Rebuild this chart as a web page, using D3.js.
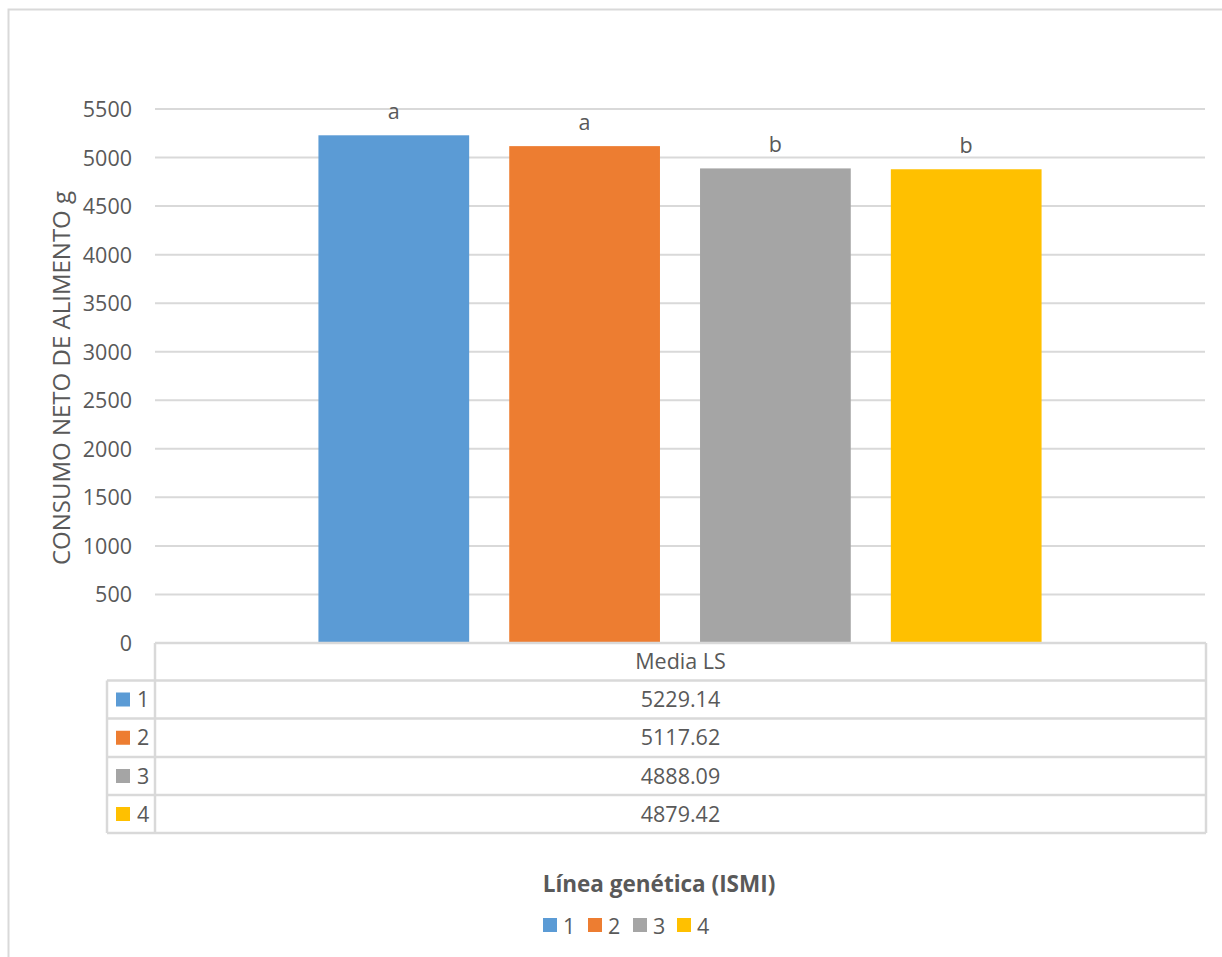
<!DOCTYPE html>
<html><head><meta charset="utf-8">
<script src="https://cdn.jsdelivr.net/npm/d3@7"></script>
<style>body{margin:0;background:#fff}svg{display:block}text{font-family:"Open Sans",sans-serif;fill:#595959}</style>
</head><body><svg id="c" width="1222" height="957"></svg>
<script>
const categories = ["Media LS"];
const series = ["1","2","3","4"];
const values = [5229.14, 5117.62, 4888.09, 4879.42];
const valueLabels = ["5229.14","5117.62","4888.09","4879.42"];
const letters = ["a","a","b","b"];
const colors = ["#5b9bd5","#ed7d31","#a5a5a5","#ffc000"];
const yTicks = [0,500,1000,1500,2000,2500,3000,3500,4000,4500,5000,5500];
const yTitle = "CONSUMO NETO DE ALIMENTO g";
const xTitle = "Línea genética (ISMI)";

const svg = d3.select("#c");
const grid = "#d9d9d9";
const L = 155, R = 1205, T = 109, B = 643;
const fs = 21.5;

// outer chart border
svg.append("rect").attr("x",8.5).attr("y",9.5).attr("width",1400).attr("height",1100)
  .attr("fill","none").attr("stroke",grid).attr("stroke-width",2);

const y = d3.scaleLinear().domain([0,5500]).range([B,T]);
const x0 = d3.scaleBand().domain(categories).range([L,R]).paddingInner(0).paddingOuter(0.226);
const x1 = d3.scaleBand().domain(series).range([0,x0.bandwidth()]).paddingInner(0.21).paddingOuter(0);

// gridlines
svg.append("g").selectAll("line").data(yTicks.filter(d=>d>0)).join("line")
  .attr("x1",L).attr("x2",R).attr("y1",d=>y(d)).attr("y2",d=>y(d))
  .attr("stroke",grid).attr("stroke-width",2);

// y axis labels
const yAxis = d3.axisLeft(y).tickValues(yTicks).tickFormat(d3.format("d")).tickSize(0).tickPadding(0);
const ga = svg.append("g").attr("transform",`translate(132,0)`).call(yAxis);
ga.select(".domain").remove();
ga.selectAll("text").style("font-family","'Open Sans',sans-serif").style("font-size",fs+"px").attr("fill","#595959").attr("dy","0.35em");

// y title
svg.append("text").attr("transform",`translate(70,378) rotate(-90)`)
  .attr("text-anchor","middle").style("font-size","24px").text(yTitle);

// bars
const g = svg.append("g").attr("transform",`translate(${x0(categories[0])},0)`);
g.selectAll("rect").data(values).join("rect")
  .attr("x",(d,i)=>x1(series[i])).attr("width",x1.bandwidth())
  .attr("y",d=>y(d)).attr("height",d=>B-y(d)).attr("fill",(d,i)=>colors[i]);
g.selectAll("text").data(values).join("text")
  .attr("x",(d,i)=>x1(series[i])+x1.bandwidth()/2).attr("y",d=>y(d)-16)
  .attr("text-anchor","middle").style("font-size",fs+"px").text((d,i)=>letters[i]);

// data table
const rowsY = [643, 680.5, 718.5, 757, 795, 833];
const tL = 107, tM = 155, tR = 1206;
const tg = svg.append("g").attr("stroke",grid).attr("stroke-width",2.5).attr("fill","none");
tg.append("line").attr("x1",tM).attr("x2",tR).attr("y1",rowsY[0]).attr("y2",rowsY[0]);
for (let i=1;i<rowsY.length;i++) tg.append("line").attr("x1",tL).attr("x2",tR).attr("y1",rowsY[i]).attr("y2",rowsY[i]);
tg.append("line").attr("x1",tM).attr("x2",tM).attr("y1",rowsY[0]).attr("y2",rowsY[5]);
tg.append("line").attr("x1",tR).attr("x2",tR).attr("y1",rowsY[0]).attr("y2",rowsY[5]);
tg.append("line").attr("x1",tL).attr("x2",tL).attr("y1",rowsY[1]).attr("y2",rowsY[5]);

const cx = (tM+tR)/2;
svg.append("text").attr("x",cx).attr("y",(rowsY[0]+rowsY[1])/2).attr("dy","0.35em")
  .attr("text-anchor","middle").style("font-size",fs+"px").text(categories[0]);
series.forEach((s,i)=>{
  const cy = (rowsY[i+1]+rowsY[i+2])/2;
  svg.append("rect").attr("x",116).attr("y",cy-7).attr("width",14).attr("height",14).attr("fill",colors[i]);
  svg.append("text").attr("x",137).attr("y",cy).attr("dy","0.35em").style("font-size",fs+"px").text(s);
  svg.append("text").attr("x",cx).attr("y",cy).attr("dy","0.35em").attr("text-anchor","middle")
    .style("font-size",fs+"px").text(valueLabels[i]);
});

// x title
svg.append("text").attr("x",659).attr("y",884).attr("dy","0.35em").attr("text-anchor","middle")
  .style("font-size","22.5px").style("font-weight","bold").text(xTitle);

// legend
const lx = [543, 588, 633, 677];
series.forEach((s,i)=>{
  svg.append("rect").attr("x",lx[i]).attr("y",918).attr("width",14).attr("height",14).attr("fill",colors[i]);
  svg.append("text").attr("x",lx[i]+20).attr("y",926).attr("dy","0.35em").style("font-size",fs+"px").text(s);
});
</script></body></html>
